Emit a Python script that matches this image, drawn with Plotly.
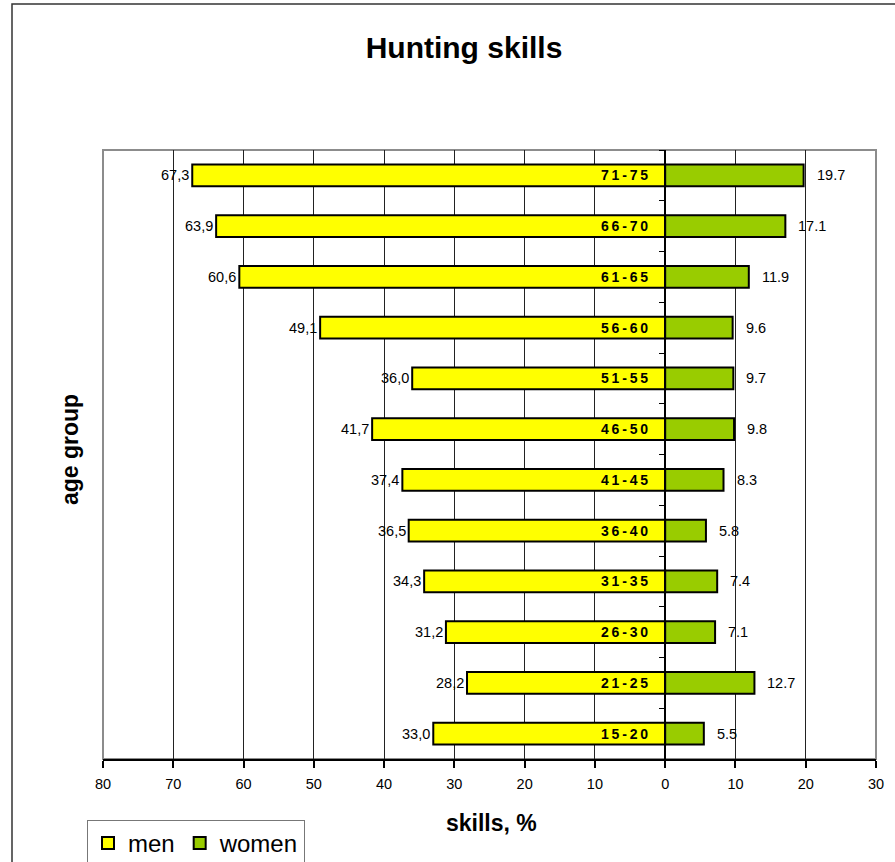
import plotly.graph_objects as go

age_groups = ["15-20", "21-25", "26-30", "31-35", "36-40", "41-45",
              "46-50", "51-55", "56-60", "61-65", "66-70", "71-75"]
men = [33.0, 28.2, 31.2, 34.3, 36.5, 37.4, 41.7, 36.0, 49.1, 60.6, 63.9, 67.3]
women = [5.5, 12.7, 7.1, 7.4, 5.8, 8.3, 9.8, 9.7, 9.6, 11.9, 17.1, 19.7]
tick_vals = [-80, -70, -60, -50, -40, -30, -20, -10, 0, 10, 20, 30]
tick_text = ["80", "70", "60", "50", "40", "30", "20", "10", "0", "10", "20", "30"]

FONT = "Liberation Sans, Arial, sans-serif"
X_MIN, X_MAX = -80, 30

fig = go.Figure()
fig.add_trace(go.Bar(
    y=age_groups, x=[-v for v in men], orientation="h", name="men",
    marker=dict(color="#FFFF00", line=dict(color="black", width=2)),
))
fig.add_trace(go.Bar(
    y=age_groups, x=women, orientation="h", name="women",
    marker=dict(color="#99CC00", line=dict(color="black", width=2)),
))

annotations = []
for g, m, w in zip(age_groups, men, women):
    annotations.append(dict(x=-m, y=g, xref="x", yref="y", text=f"{m:.1f}".replace(".", ","),
                            xanchor="right", xshift=-1, showarrow=False,
                            font=dict(family=FONT, size=14.5, color="black")))
    annotations.append(dict(x=w, y=g, xref="x", yref="y", text=f"{w:.1f}",
                            xanchor="left", xshift=11, showarrow=False,
                            font=dict(family=FONT, size=14.5, color="black")))
    annotations.append(dict(x=0, y=g, xref="x", yref="y", text="<b>" + "\u2009".join(g) + "</b>",
                            xanchor="right", xshift=-15, showarrow=False,
                            font=dict(family=FONT, size=14, color="black")))

annotations.append(dict(x=(70 - 103) / 773, y=(759 - 450) / 609, xref="paper", yref="paper",
                        text="<b>age group</b>", textangle=-90, showarrow=False,
                        xanchor="center", yanchor="middle",
                        font=dict(family=FONT, size=23, color="black")))
annotations.append(dict(x=(491 - 103) / 773, y=(759 - 823) / 609, xref="paper", yref="paper",
                        text="<b>skills, %</b>", showarrow=False,
                        xanchor="center", yanchor="middle",
                        font=dict(family=FONT, size=23, color="black")))

shapes = [
    # outer chart border
    dict(type="rect", xref="paper", yref="paper", x0=(12 - 103) / 773, x1=1.2,
         y0=-0.3, y1=(759 - 4) / 609, line=dict(color="#333333", width=1.5), layer="below"),
    # plot area border
    dict(type="rect", xref="paper", yref="paper", x0=0, x1=1, y0=0, y1=1,
         line=dict(color="#8c8c8c", width=2), layer="below"),
]

fig.update_layout(
    width=895, height=862,
    margin=dict(l=103, r=19, t=150, b=103, autoexpand=False),
    paper_bgcolor="white", plot_bgcolor="white",
    barmode="relative", bargap=0.57,
    title=dict(text="<b>Hunting skills</b>", x=464 / 895, xanchor="center", xref="container",
               y=1 - 47 / 862, yanchor="middle", yref="container",
               font=dict(family=FONT, size=30, color="black")),
    xaxis=dict(range=[X_MIN, X_MAX], tickvals=tick_vals, ticktext=tick_text,
               showgrid=True, gridcolor="#222222", gridwidth=1, zeroline=False,
               showline=True, linecolor="black", linewidth=1.5,
               ticks="outside", ticklen=7, tickcolor="black", tickwidth=1.5,
               ticklabelstandoff=4,
               tickfont=dict(family=FONT, size=14.5, color="black"), fixedrange=True),
    yaxis=dict(categoryorder="array", categoryarray=age_groups,
               anchor="free", position=(0 - X_MIN) / (X_MAX - X_MIN),
               showline=True, linecolor="black", linewidth=1.5,
               ticks="outside", tickson="boundaries", ticklen=5, tickcolor="black",
               showticklabels=False, showgrid=False, zeroline=False, fixedrange=True),
    legend=dict(orientation="h", x=(87 - 103) / 773, xanchor="left",
                y=(759 - 820) / 609, yanchor="top",
                bordercolor="#777777", borderwidth=1, bgcolor="white",
                font=dict(family=FONT, size=24, color="black"),
                traceorder="normal", itemwidth=30),
    annotations=annotations, shapes=shapes,
    font=dict(family=FONT, color="black"),
)

fig.write_html("out.html", config={"displayModeBar": False},
               post_script="document.body.style.margin='0px';")
